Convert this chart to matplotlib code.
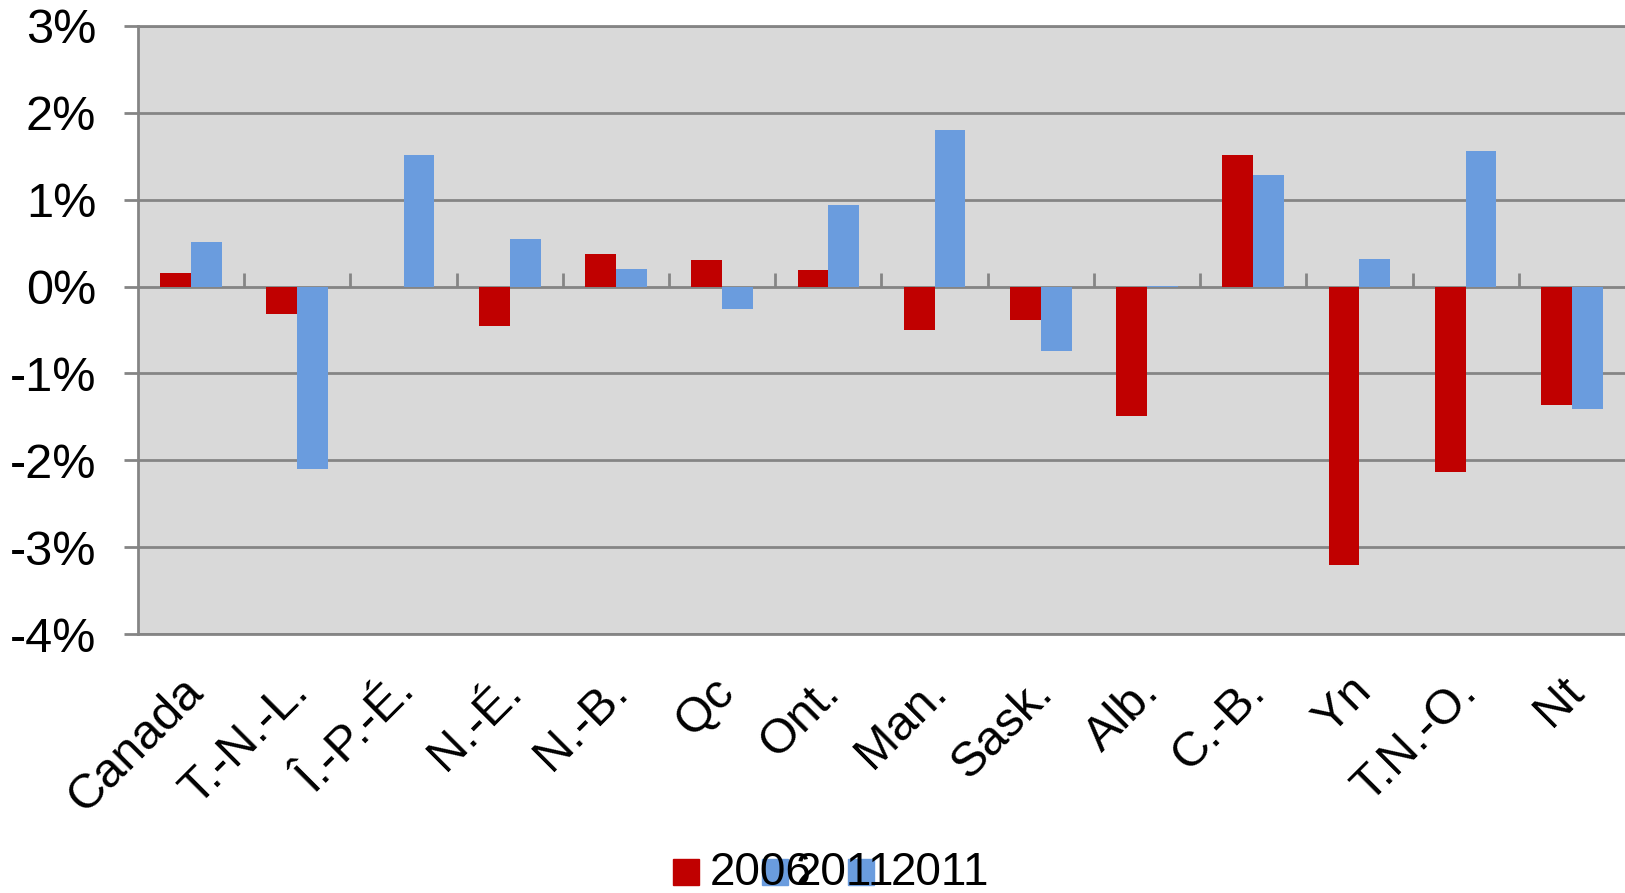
import matplotlib
matplotlib.use("Agg")
import matplotlib.pyplot as plt
import matplotlib.transforms as mtransforms
from matplotlib.patches import Rectangle
import numpy as np

plt.rcParams['font.family'] = ['Liberation Sans', 'DejaVu Sans']

# provinces / territories
categories = ['Canada', 'T.-N.-L.', 'Î.-P.-É.', 'N.-É.', 'N.-B.', 'Qc', 'Ont.',
              'Man.', 'Sask.', 'Alb.', 'C.-B.', 'Yn', 'T.N.-O.', 'Nt']
# percent change
values_2006 = [0.15, -0.32, 0.0, -0.46, 0.38, 0.31, 0.19,
               -0.50, -0.39, -1.49, 1.51, -3.20, -2.14, -1.36]
values_2011 = [0.51, -2.10, 1.51, 0.55, 0.20, -0.26, 0.94,
               1.80, -0.74, 0.01, 1.28, 0.32, 1.56, -1.41]
yticks = [-4, -3, -2, -1, 0, 1, 2, 3]
legend_labels = ['2006', '2011', '2011']

RED = '#C00000'
BLUE = '#6A9CDE'
GRAY = '#858585'
FS = 35

fig = plt.figure(figsize=(16.25, 8.93), dpi=100)
ax = fig.add_axes([0.0849, 0.290, 0.9151, 0.681])
ax.set_facecolor('#D9D9D9')

x = np.arange(len(categories))
w = 0.29
ax.bar(x - w / 2, values_2006, w, color=RED, zorder=3)
ax.bar(x + w / 2, values_2011, w, color=BLUE, zorder=3)

ymin, ymax = -4, 3
ax.set_xlim(-0.5, len(categories) - 0.5)
ax.set_ylim(ymin, ymax)

ax.set_yticks(yticks)
ax.set_yticklabels([f"{v}%" for v in yticks])
ax.tick_params(axis='y', direction='out', length=10, width=2, color=GRAY,
               labelsize=FS, pad=20)
ax.grid(axis='y', color=GRAY, linewidth=2, zorder=1)
ax.set_axisbelow(True)

ax.set_xticks(x)
ax.set_xticklabels(categories)
ax.tick_params(axis='x', length=0, labelsize=FS, pad=25)
offset = mtransforms.ScaledTranslation(-0.11, 0, fig.dpi_scale_trans)
for lbl in ax.get_xticklabels():
    lbl.set_rotation(45)
    lbl.set_ha('right')
    lbl.set_va('top')
    lbl.set_rotation_mode('anchor')
    lbl.set_transform(lbl.get_transform() + offset)

for side in ['left', 'bottom', 'top']:
    ax.spines[side].set_color(GRAY)
    ax.spines[side].set_linewidth(2)
ax.spines['right'].set_visible(False)

# zero line with category separators
zero_axis = ax.secondary_xaxis((0 - ymin) / (ymax - ymin))
zero_axis.set_xticks(x[:-1] + 0.5)
zero_axis.set_xticklabels([])
zero_axis.tick_params(direction='out', length=10, width=2, color=GRAY)
zero_axis.spines['bottom'].set_color(GRAY)
zero_axis.spines['bottom'].set_linewidth(2)

# legend (overlapping entries as in the original)
handle_x = [0.414, 0.469, 0.522]
text_x = [0.437, 0.490, 0.548]
colors = [RED, BLUE, BLUE]
for hx, tx, c, lab in zip(handle_x, text_x, colors, legend_labels):
    fig.patches.append(Rectangle((hx, 0.009), 0.016, 0.029, color=c,
                                 transform=fig.transFigure, figure=fig))
    fig.text(tx, 0.022, lab, fontsize=33, va='center', ha='left')

fig.savefig('out.png', dpi=100)
